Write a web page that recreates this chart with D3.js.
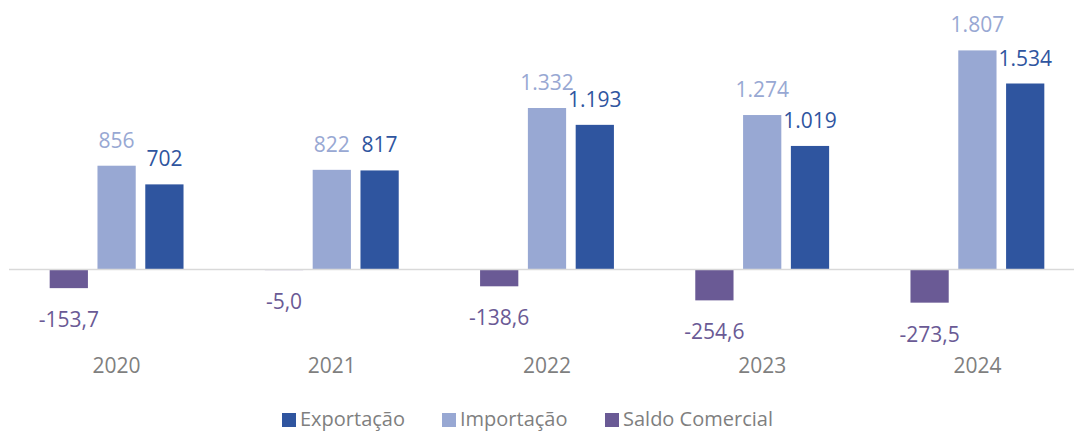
<!DOCTYPE html>
<html>
<head>
<meta charset="utf-8">
<script src="https://cdn.jsdelivr.net/npm/d3@7"></script>
<style>
  body { margin: 0; background: #fff; }
  svg { display: block; font-family: "Segoe UI", "Open Sans", sans-serif; }
</style>
</head>
<body>
<div id="main"></div>
<script>
// dados (US$ milhões)
var years = ['2020', '2021', '2022', '2023', '2024'];
var exportacao = [702, 817, 1193, 1019, 1534];
var importacao = [856, 822, 1332, 1274, 1807];
var saldo = [-153.7, -5.0, -138.6, -254.6, -273.5];

var seriesNames = ['Saldo Comercial', 'Importação', 'Exportação'];
var legendNames = ['Exportação', 'Importação', 'Saldo Comercial'];
var colors = {
  'Exportação': '#2F559F',
  'Importação': '#98A8D3',
  'Saldo Comercial': '#6A5A95'
};

var width = 1074, height = 432;

var svg = d3.select('#main').append('svg')
            .attr('width', width)
            .attr('height', height);

var locale = d3.formatLocale({decimal: ',', thousands: '.', grouping: [3], currency: ['R$', ''], minus: '-'});
var fmtInt = locale.format(',.0f');
var fmtDec = locale.format(',.1f');

var x0 = d3.scaleBand().domain(years).range([9, 1085]);
var x1 = d3.scaleBand().domain(seriesNames).range([0, x0.bandwidth()])
           .paddingInner(0.2).paddingOuter(0.851);
var y = d3.scaleLinear().domain([-400, 2000]).range([318, 27]);

var rows = years.map(function(yr, i) {
  return {year: yr, values: [
    {name: 'Saldo Comercial', value: saldo[i]},
    {name: 'Importação', value: importacao[i]},
    {name: 'Exportação', value: exportacao[i]}
  ]};
});

var groups = svg.selectAll('g.grp')
  .data(rows)
  .enter().append('g')
  .attr('class', 'grp')
  .attr('transform', function(d) { return 'translate(' + x0(d.year) + ',0)'; });

groups.selectAll('rect')
  .data(function(d) { return d.values; })
  .enter().append('rect')
  .attr('x', function(d) { return x1(d.name); })
  .attr('y', function(d) { return y(Math.max(0, d.value)); })
  .attr('width', x1.bandwidth())
  .attr('height', function(d) { return Math.abs(y(d.value) - y(0)); })
  .attr('fill', function(d) { return colors[d.name]; });

// linha do zero
svg.append('line')
   .attr('x1', 9).attr('x2', width)
   .attr('y1', y(0)).attr('y2', y(0))
   .attr('stroke', '#D9D9D9')
   .attr('stroke-width', 1.5);

// rótulos
groups.selectAll('text.val')
  .data(function(d) { return d.values; })
  .enter().append('text')
  .attr('class', 'val')
  .attr('x', function(d) { return x1(d.name) + x1.bandwidth() / 2; })
  .attr('y', function(d) { return d.value < 0 ? y(d.value) + 39 : y(d.value) - 18; })
  .attr('text-anchor', 'middle')
  .attr('font-size', 21)
  .attr('fill', function(d) { return colors[d.name]; })
  .text(function(d) { return d.name === 'Saldo Comercial' ? fmtDec(d.value) : fmtInt(d.value); });

// anos
svg.selectAll('text.year')
  .data(years)
  .enter().append('text')
  .attr('class', 'year')
  .attr('x', function(d) { return x0(d) + x0.bandwidth() / 2; })
  .attr('y', 373)
  .attr('text-anchor', 'middle')
  .attr('font-size', 21)
  .attr('fill', '#7F7F7F')
  .text(function(d) { return d; });

// legenda
var legendX = [282, 442, 605];
var legend = svg.selectAll('g.leg')
  .data(legendNames)
  .enter().append('g')
  .attr('class', 'leg')
  .attr('transform', function(d, i) { return 'translate(' + legendX[i] + ',0)'; });

legend.append('rect')
  .attr('x', 0).attr('y', 413)
  .attr('width', 14).attr('height', 14)
  .attr('fill', function(d) { return colors[d]; });

legend.append('text')
  .attr('x', 18).attr('y', 426)
  .attr('font-size', 20)
  .attr('fill', '#7F7F7F')
  .text(function(d) { return d; });
</script>
</body>
</html>
